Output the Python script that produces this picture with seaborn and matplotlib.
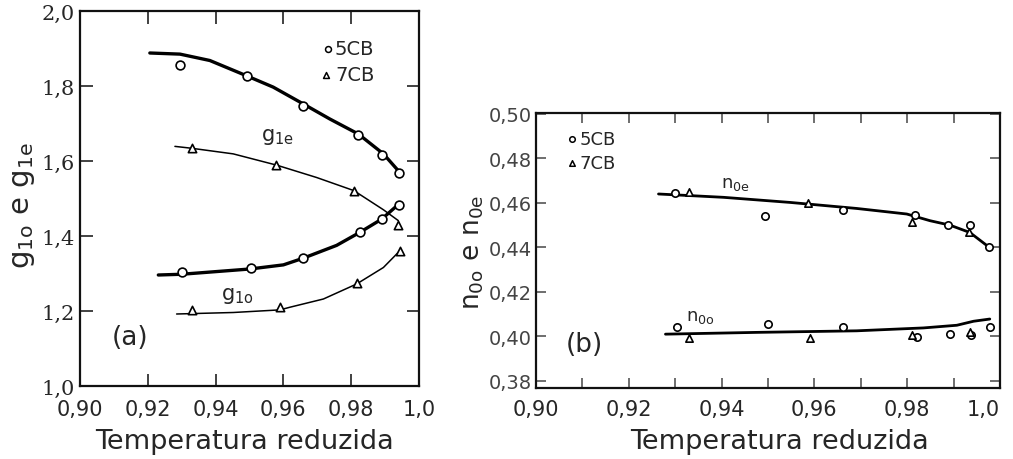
import matplotlib
matplotlib.use("Agg")
import matplotlib.pyplot as plt
import seaborn as sns
import pandas as pd
from matplotlib.ticker import MultipleLocator

# ---------------- data: panel (a) ----------------
g1e_5cb_x = [0.9295, 0.9492, 0.9657, 0.9819, 0.9892, 0.9940]
g1e_5cb_y = [1.856, 1.826, 1.747, 1.669, 1.617, 1.567]
g1e_7cb_x = [0.9329, 0.9578, 0.9808, 0.9939]
g1e_7cb_y = [1.635, 1.590, 1.521, 1.429]
g1o_5cb_x = [0.9300, 0.9504, 0.9659, 0.9826, 0.9890, 0.9942]
g1o_5cb_y = [1.303, 1.314, 1.341, 1.410, 1.445, 1.483]
g1o_7cb_x = [0.9329, 0.9590, 0.9816, 0.9944]
g1o_7cb_y = [1.203, 1.212, 1.275, 1.359]

fit_g1e_5cb_x = [0.9206, 0.9295, 0.9383, 0.9492, 0.9570, 0.9659, 0.9737, 0.9821, 0.9895, 0.9939]
fit_g1e_5cb_y = [1.888, 1.885, 1.868, 1.827, 1.797, 1.752, 1.712, 1.672, 1.619, 1.574]
fit_g1e_7cb_x = [0.9280, 0.9329, 0.9452, 0.9580, 0.9698, 0.9808, 0.9895, 0.9939]
fit_g1e_7cb_y = [1.639, 1.634, 1.619, 1.589, 1.556, 1.521, 1.470, 1.441]
fit_g1o_5cb_x = [0.9231, 0.9300, 0.9501, 0.9600, 0.9659, 0.9757, 0.9826, 0.9890, 0.9944]
fit_g1o_5cb_y = [1.296, 1.298, 1.312, 1.323, 1.341, 1.375, 1.410, 1.445, 1.488]
fit_g1o_7cb_x = [0.9285, 0.9452, 0.9590, 0.9619, 0.9718, 0.9816, 0.9895, 0.9944]
fit_g1o_7cb_y = [1.192, 1.196, 1.203, 1.210, 1.232, 1.272, 1.316, 1.361]

# ---------------- data: panel (b) ----------------
n0e_5cb_x = [0.9300, 0.9494, 0.9661, 0.9817, 0.9889, 0.9935, 0.9977]
n0e_5cb_y = [0.4644, 0.4542, 0.4569, 0.4545, 0.4502, 0.4500, 0.4400]
n0e_7cb_x = [0.9329, 0.9587, 0.9810, 0.9933]
n0e_7cb_y = [0.4650, 0.4598, 0.4515, 0.4468]
n0o_5cb_x = [0.9304, 0.9501, 0.9662, 0.9821, 0.9892, 0.9937, 0.9978]
n0o_5cb_y = [0.4040, 0.4055, 0.4040, 0.3996, 0.4010, 0.4004, 0.4040]
n0o_7cb_x = [0.9329, 0.9591, 0.9810, 0.9935]
n0o_7cb_y = [0.3991, 0.3991, 0.4006, 0.4020]

fit_n0e_x = [0.9264, 0.9404, 0.9548, 0.9691, 0.9799, 0.9849, 0.9892, 0.9935, 0.9982]
fit_n0e_y = [0.4640, 0.4625, 0.4602, 0.4575, 0.4550, 0.4520, 0.4500, 0.4467, 0.4392]
fit_n0o_x = [0.9279, 0.9476, 0.9691, 0.9835, 0.9907, 0.9943, 0.9978]
fit_n0o_y = [0.4010, 0.4018, 0.4025, 0.4038, 0.4050, 0.4068, 0.4078]

xticks_a = [0.90, 0.92, 0.94, 0.96, 0.98, 1.00]
xticklabels = ["0,90", "0,92", "0,94", "0,96", "0,98", "1,0"]
yticks_a = [1.0, 1.2, 1.4, 1.6, 1.8, 2.0]
yticklabels_a = ["1,0", "1,2", "1,4", "1,6", "1,8", "2,0"]
yticks_b = [0.38, 0.40, 0.42, 0.44, 0.46, 0.48, 0.50]
yticklabels_b = ["0,38", "0,40", "0,42", "0,44", "0,46", "0,48", "0,50"]

sns.set_style("ticks")
plt.rcParams["font.family"] = ["DejaVu Sans"]
plt.rcParams["mathtext.fontset"] = "dejavusans"

W, H = 1013, 460
fig = plt.figure(figsize=(W / 100, H / 100), dpi=100)

def fr(l, r, t, b):
    return [l / W, 1 - b / H, (r - l) / W, (b - t) / H]

axA = fig.add_axes(fr(80, 419, 12, 387))
axB = fig.add_axes(fr(536, 1000, 114, 389))

def fitline(ax, x, y, lw):
    sns.lineplot(data=pd.DataFrame({"x": x, "y": y}), x="x", y="y", ax=ax,
                 color="black", lw=lw, sort=False, estimator=None)

def pts(ax, x, y, marker, s):
    sns.scatterplot(data=pd.DataFrame({"x": x, "y": y}), x="x", y="y", ax=ax,
                    marker=marker, s=s, facecolor="white", edgecolor="black",
                    linewidth=1.2, zorder=5)

# panel (a)
fitline(axA, fit_g1e_5cb_x, fit_g1e_5cb_y, 2.4)
fitline(axA, fit_g1e_7cb_x, fit_g1e_7cb_y, 1.1)
fitline(axA, fit_g1o_5cb_x, fit_g1o_5cb_y, 2.4)
fitline(axA, fit_g1o_7cb_x, fit_g1o_7cb_y, 1.1)
pts(axA, g1e_5cb_x, g1e_5cb_y, "o", 40)
pts(axA, g1o_5cb_x, g1o_5cb_y, "o", 40)
pts(axA, g1e_7cb_x, g1e_7cb_y, "^", 36)
pts(axA, g1o_7cb_x, g1o_7cb_y, "^", 36)

axA.set_xlim(0.90, 1.0)
axA.set_ylim(1.0, 2.0)
axA.set_xticks(xticks_a)
axA.set_xticklabels(xticklabels, fontsize=15)
axA.set_yticks(yticks_a)
axA.set_yticklabels(yticklabels_a, fontsize=15, family="DejaVu Serif")
axA.tick_params(direction="in", length=9, width=1.3, top=True, right=True,
                color="#333333")
axA.tick_params(axis="x", pad=9)
axA.tick_params(axis="y", pad=4)
axA.set_xlabel("")
axA.set_ylabel("")
for sp in axA.spines.values():
    sp.set_linewidth(1.6)
    sp.set_color("#111111")

axA.text(0.9584, 1.667, r"$\mathrm{g_{1e}}$", fontsize=15, ha="center", va="center")
axA.text(0.9463, 1.244, r"$\mathrm{g_{1o}}$", fontsize=15, ha="center", va="center")
axA.text(0.9147, 1.13, "(a)", fontsize=19, ha="center", va="center")
axA.scatter([0.9732], [1.899], marker="o", s=18, facecolor="white", edgecolor="black", lw=1.1)
axA.scatter([0.9727], [1.830], marker="^", s=18, facecolor="white", edgecolor="black", lw=1.1)
axA.text(0.9752, 1.899, "5CB", fontsize=14, ha="left", va="center")
axA.text(0.9752, 1.830, "7CB", fontsize=14, ha="left", va="center")

# panel (b)
fitline(axB, fit_n0e_x, fit_n0e_y, 2.0)
fitline(axB, fit_n0o_x, fit_n0o_y, 2.0)
pts(axB, n0e_5cb_x, n0e_5cb_y, "o", 28)
pts(axB, n0o_5cb_x, n0o_5cb_y, "o", 28)
pts(axB, n0e_7cb_x, n0e_7cb_y, "^", 28)
pts(axB, n0o_7cb_x, n0o_7cb_y, "^", 28)

axB.set_xlim(0.90, 1.0)
axB.set_ylim(0.3768, 0.5004)
axB.set_xticks(xticks_a)
axB.set_xticklabels(xticklabels, fontsize=15)
axB.get_xticklabels()[-1].set_ha("right")
axB.xaxis.set_minor_locator(MultipleLocator(0.01))
axB.set_yticks(yticks_b)
axB.set_yticklabels(yticklabels_b, fontsize=14, color="#444444")
axB.tick_params(which="both", direction="in", length=7, width=1.2, top=True, right=True,
                color="#555555")
axB.tick_params(axis="x", pad=8)
axB.tick_params(axis="y", pad=3)
axB.set_xlabel("")
axB.set_ylabel("")
for sp in axB.spines.values():
    sp.set_linewidth(1.6)
    sp.set_color("#111111")

axB.text(0.9429, 0.4690, r"$\mathrm{n_{0e}}$", fontsize=13, ha="center", va="center")
axB.text(0.9355, 0.4090, r"$\mathrm{n_{0o}}$", fontsize=13, ha="center", va="center")
axB.text(0.9105, 0.3968, "(b)", fontsize=19, ha="center", va="center")
axB.scatter([0.9078], [0.4888], marker="o", s=16, facecolor="white", edgecolor="black", lw=1.1)
axB.scatter([0.9078], [0.4780], marker="^", s=16, facecolor="white", edgecolor="black", lw=1.1)
axB.text(0.9093, 0.4888, "5CB", fontsize=13, ha="left", va="center")
axB.text(0.9093, 0.4780, "7CB", fontsize=13, ha="left", va="center")

# axis titles
fig.text(244 / W, 1 - 442 / H, "Temperatura reduzida", fontsize=19.5, ha="center", va="center")
fig.text(780 / W, 1 - 442 / H, "Temperatura reduzida", fontsize=19.5, ha="center", va="center")
fig.text(23 / W, 1 - 205 / H, r"$\mathrm{g_{1o}\ e\ g_{1e}}$", fontsize=21,
         rotation=90, ha="center", va="center")
fig.text(473 / W, 1 - 252 / H, r"$\mathrm{n_{0o}\ e\ n_{0e}}$", fontsize=19,
         rotation=90, ha="center", va="center")

fig.savefig("out.png", dpi=100)
